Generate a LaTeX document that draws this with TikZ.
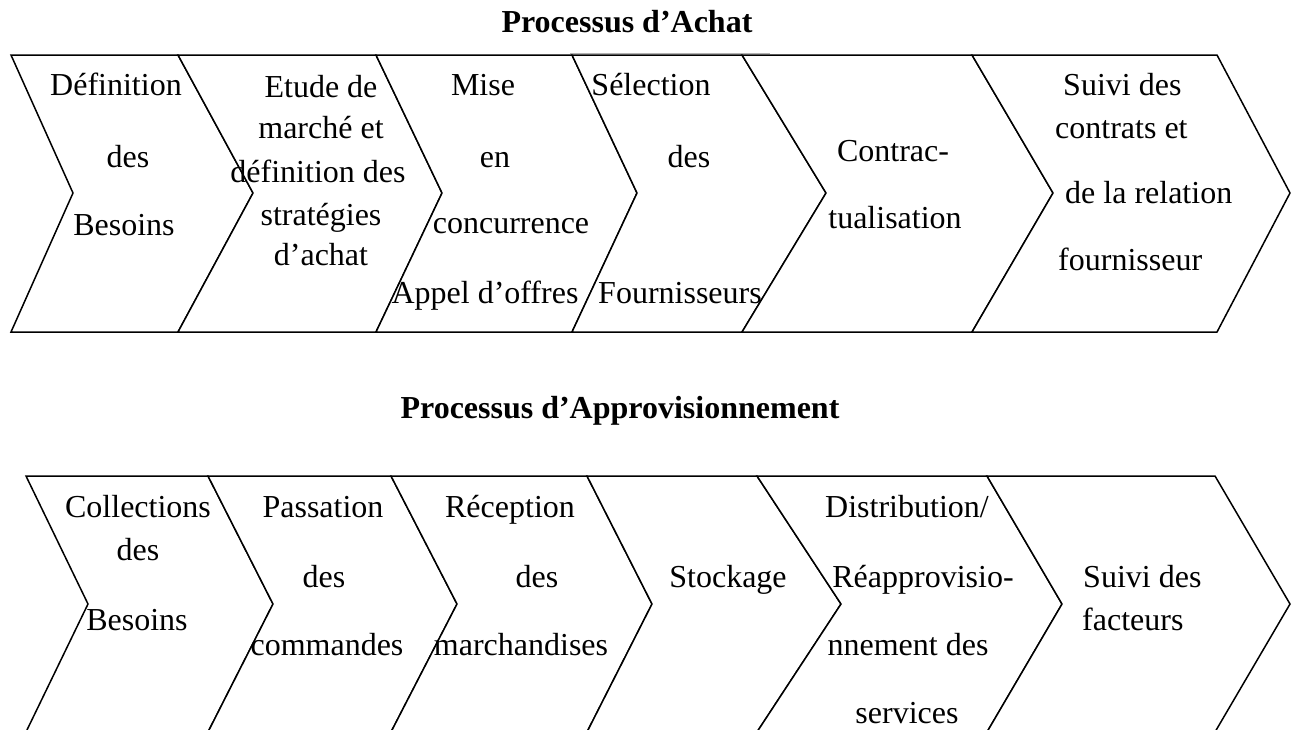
\documentclass[tikz,border=0pt]{standalone}
\usepackage{fontspec}
\setmainfont{Liberation Serif}
\begin{document}
\begin{tikzpicture}[x=1pt,y=-1pt]
\tikzset{
  chev/.style={draw=black, line width=1.5pt, line join=miter, fill=white},
  lbl/.style={font=\fontsize{32}{38}\selectfont, anchor=base, inner sep=0pt},
  lbll/.style={lbl, anchor=base west},
  ttl/.style={font=\fontsize{32}{38}\selectfont\bfseries, inner sep=0pt},
}
\useasboundingbox (0,0) rectangle (1292,729);
% top row chevrons
\foreach \xl/\xn/\xr/\xt in {11/73/178/253, 178/253/376/442, 376/442/572/637, 572/637/742/826, 742/826/972/1053, 972/1053/1217/1290}
  \draw[chev] (\xl,55) -- (\xr,55) -- (\xt,193) -- (\xr,332) -- (\xl,332) -- (\xn,193) -- cycle;
% bottom row chevrons
\foreach \xl/\xn/\xr/\xt in {26/88/208/273, 208/273/391/457, 391/457/587/652, 587/652/757/841, 757/841/987/1062, 987/1062/1215/1290}
  \draw[chev] (\xl,476) -- (\xr,476) -- (\xt,604) -- (\xr,732) -- (\xl,732) -- (\xn,604) -- cycle;
\draw[gray!60, line width=1pt] (570,53) -- (770,53);
% titles
\node[ttl] (t1) at (627,22) {Processus d’Achat};
\node[ttl] (t2) at (620,411) {Processus d’Approvisionnement};
% top row labels
\node[lbl] (a1a) at (116,95) {Définition};
\node[lbl] (a1b) at (128,167) {des};
\node[lbl] (a1c) at (124,235) {Besoins};
\node[lbl] (a2a) at (321,97) {Etude de};
\node[lbl] (a2b) at (321,138) {marché et};
\node[lbl] (a2c) at (318,182) {définition des};
\node[lbl] (a2d) at (321,225) {stratégies};
\node[lbl] (a2e) at (321,265) {d’achat};
\node[lbl] (a3a) at (483,95) {Mise};
\node[lbl] (a3b) at (495,167) {en};
\node[lbl] (a3c) at (511,233) {concurrence};
\node[lbl] (a3d) at (485,303) {Appel d’offres};
\node[lbl] (a4a) at (651,95) {Sélection};
\node[lbl] (a4b) at (689,167) {des};
\node[lbl] (a4c) at (680,303) {Fournisseurs};
\node[lbl] (a5a) at (893,161) {Contrac-};
\node[lbl] (a5b) at (895,228) {tualisation};
\node[lbll] (a6a) at (1063,95) {Suivi des};
\node[lbll] (a6b) at (1055,138) {contrats et};
\node[lbll] (a6c) at (1065,203) {de la relation};
\node[lbll] (a6d) at (1058,270) {fournisseur};
% bottom row labels
\node[lbl] (b1a) at (138,517) {Collections};
\node[lbl] (b1b) at (138,560) {des};
\node[lbl] (b1c) at (137,630) {Besoins};
\node[lbl] (b2a) at (323,517) {Passation};
\node[lbl] (b2b) at (324,587) {des};
\node[lbl] (b2c) at (327,655) {commandes};
\node[lbl] (b3a) at (510,517) {Réception};
\node[lbl] (b3b) at (537,587) {des};
\node[lbl] (b3c) at (521,655) {marchandises};
\node[lbl] (b4a) at (728,587) {Stockage};
\node[lbl] (b5a) at (907,517) {Distribution/};
\node[lbl] (b5b) at (923,587) {Réapprovisio-};
\node[lbl] (b5c) at (908,655) {nnement des};
\node[lbl] (b5d) at (907,723) {services};
\node[lbll] (b6a) at (1083,587) {Suivi des};
\node[lbll] (b6b) at (1082,630) {facteurs};
\end{tikzpicture}
\end{document}
